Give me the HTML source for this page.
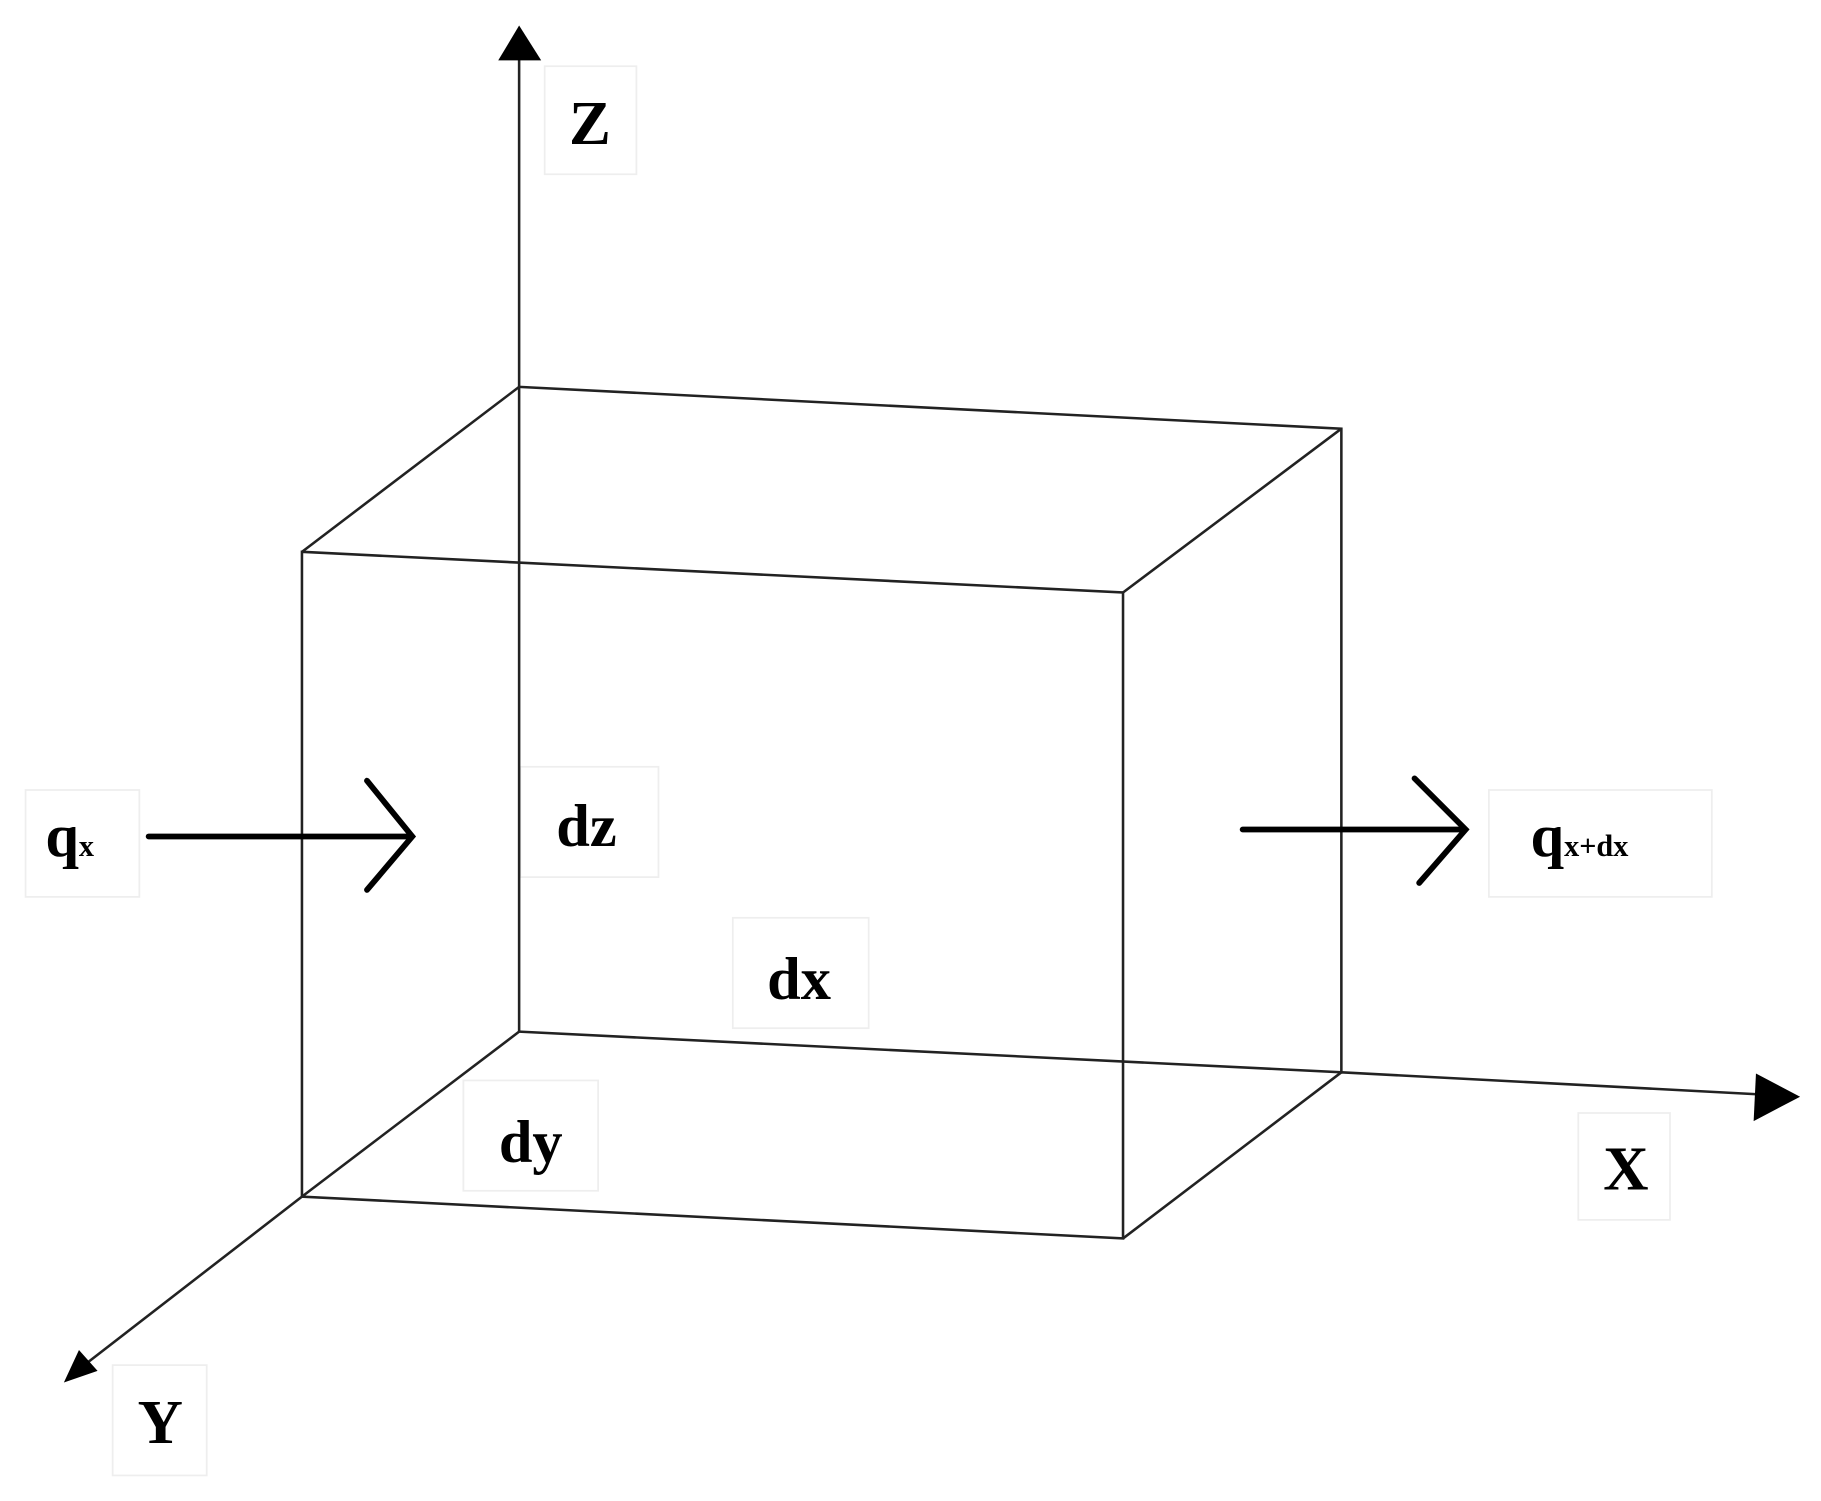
<!DOCTYPE html>
<html><head><style>html,body{margin:0;padding:0;background:#fff;}svg{display:block}</style></head>
<body>
<svg width="1821" height="1501" viewBox="0 0 1568 1292" preserveAspectRatio="none" xmlns="http://www.w3.org/2000/svg">
<g fill="none" stroke="#eee" stroke-width="1.5">
<rect x="469" y="57" width="79" height="93"/>
<rect x="22" y="680" width="98" height="92"/>
<rect x="448" y="660" width="119" height="95"/>
<rect x="1282" y="680" width="192" height="92"/>
<rect x="631" y="790" width="117" height="95"/>
<rect x="399" y="930" width="116" height="95"/>
<rect x="1359" y="958" width="79" height="92"/>
<rect x="97" y="1175" width="81" height="95"/>
</g>
<g stroke="#222" stroke-width="2.2" fill="none">
<line x1="447" y1="45" x2="447" y2="888"/>
<polyline points="447,333 1155,369 1155,923 447,888"/>
<polygon points="260,475 967,510 967,1066 260,1030"/>
<line x1="447" y1="333" x2="260" y2="475"/>
<line x1="1155" y1="369" x2="967" y2="510"/>
<line x1="1155" y1="923" x2="967" y2="1066"/>
<line x1="447" y1="888" x2="260" y2="1030"/>
<line x1="1155" y1="923" x2="1515" y2="942"/>
<line x1="260" y1="1030" x2="70" y2="1177"/>
</g>
<polygon points="447,22 429,52 466,52" fill="#000"/>
<polygon points="1550,944 1512,924 1510,965" fill="#000"/>
<polygon points="55,1190 68,1162 84,1180" fill="#000"/>
<g stroke="#000" stroke-width="5" fill="none" stroke-linecap="round">
<line x1="128" y1="720" x2="352" y2="720"/>
<polyline points="316,672 355,720 316,766"/>
<line x1="1070" y1="714" x2="1258" y2="714"/>
<polyline points="1218,670 1262,714 1222,760"/>
</g>
<g font-family="Liberation Serif, serif" font-weight="bold" fill="#000" text-anchor="middle">
<text x="508" y="124" font-size="54">Z</text>
<text x="505" y="728" font-size="52">dz</text>
<text x="688" y="860" font-size="52">dx</text>
<text x="457" y="1000" font-size="52">dy</text>
<text x="1400" y="1024" font-size="54">X</text>
<text x="138" y="1242" font-size="54">Y</text>
<text x="60" y="737" font-size="52">q<tspan font-size="26">x</tspan></text>
<text x="1360" y="737" font-size="52">q<tspan font-size="26">x+dx</tspan></text>
</g>
</svg>
</body></html>
